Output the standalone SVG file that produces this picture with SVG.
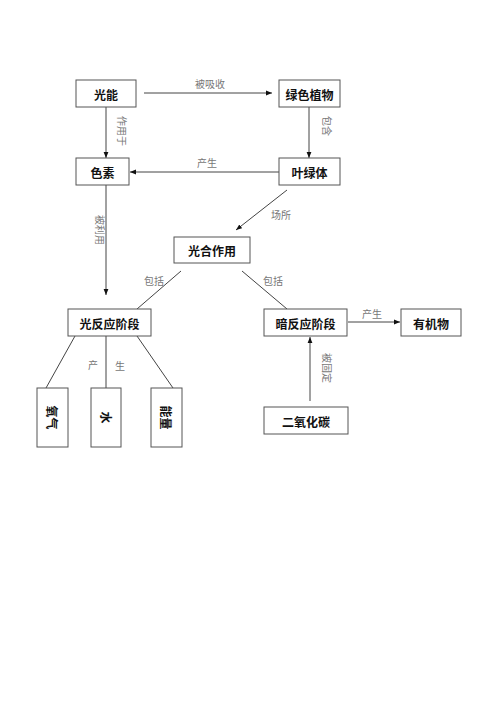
<svg xmlns="http://www.w3.org/2000/svg" width="500" height="708" viewBox="0 0 500 708">
<style>
.box{fill:#fff;stroke:#555;stroke-width:1}
.t{font-family:"Noto Sans CJK SC",sans-serif;font-size:12px;font-weight:bold;fill:#111;text-anchor:middle;dominant-baseline:central}
.l{font-family:"Noto Sans CJK SC",sans-serif;font-size:10px;fill:#777;text-anchor:middle;dominant-baseline:central}
.c{stroke:#444;stroke-width:1;fill:none}
</style>
<defs>
<marker id="ah" viewBox="0 0 10 10" refX="10" refY="5" markerWidth="6" markerHeight="6" orient="auto-start-reverse" markerUnits="userSpaceOnUse">
<path d="M0,1 L10,5 L0,9 z" fill="#111"/>
</marker>
</defs>
<rect width="500" height="708" fill="#fff"/>
<g id="connectors">
<line class="c" x1="144" y1="93" x2="272" y2="93" marker-end="url(#ah)"/>
<text class="l" x="210" y="83">被吸收</text>
<line class="c" x1="106" y1="107" x2="106" y2="158" marker-end="url(#ah)"/>
<text class="l" transform="rotate(90 122 131)" x="122" y="131">作用于</text>
<line class="c" x1="309" y1="107" x2="309" y2="158" marker-end="url(#ah)"/>
<text class="l" transform="rotate(90 327 126)" x="327" y="126">包含</text>
<line class="c" x1="279" y1="172" x2="130" y2="172" marker-end="url(#ah)"/>
<text class="l" x="207" y="162">产生</text>
<line class="c" x1="287" y1="190" x2="236" y2="230" marker-end="url(#ah)"/>
<text class="l" x="281" y="214">场所</text>
<line class="c" x1="106" y1="185" x2="106" y2="295" marker-end="url(#ah)"/>
<text class="l" transform="rotate(90 100 230)" x="100" y="230">被利用</text>
<line class="c" x1="181" y1="271" x2="137" y2="309"/>
<text class="l" x="154" y="280">包括</text>
<line class="c" x1="242" y1="271" x2="287" y2="309"/>
<text class="l" x="273" y="280">包括</text>
<line class="c" x1="348" y1="322" x2="400" y2="322" marker-end="url(#ah)"/>
<text class="l" x="372" y="313">产生</text>
<line class="c" x1="310" y1="401" x2="310" y2="337" marker-end="url(#ah)"/>
<text class="l" transform="rotate(90 327 368)" x="327" y="368">被固定</text>
<line class="c" x1="75" y1="336" x2="46" y2="388"/>
<line class="c" x1="106" y1="336" x2="106" y2="388"/>
<line class="c" x1="137" y1="336" x2="173" y2="388"/>
<text class="l" x="93" y="364">产</text>
<text class="l" x="120" y="365">生</text>
</g>
<g id="n-guangneng"><rect class="box" x="76" y="80" width="60" height="27"/><text class="t" x="106" y="94">光能</text></g>
<g id="n-lvsezhiwu"><rect class="box" x="279" y="80" width="61" height="27"/><text class="t" x="309.5" y="94">绿色植物</text></g>
<g id="n-sesu"><rect class="box" x="76" y="158" width="53" height="27"/><text class="t" x="102.5" y="172">色素</text></g>
<g id="n-yelvti"><rect class="box" x="279" y="158" width="61" height="27"/><text class="t" x="309.5" y="172">叶绿体</text></g>
<g id="n-guanghe"><rect class="box" x="174" y="237" width="76" height="26"/><text class="t" x="212" y="250.5">光合作用</text></g>
<g id="n-guangfanying"><rect class="box" x="68" y="309" width="83" height="27"/><text class="t" x="109.5" y="323">光反应阶段</text></g>
<g id="n-anfanying"><rect class="box" x="264" y="309" width="83" height="27"/><text class="t" x="305.5" y="323">暗反应阶段</text></g>
<g id="n-youjiwu"><rect class="box" x="401" y="309" width="60" height="27"/><text class="t" x="431" y="323">有机物</text></g>
<g id="n-eryanghuatan"><rect class="box" x="264" y="407" width="84" height="27"/><text class="t" x="306" y="421">二氧化碳</text></g>
<g id="n-yangqi"><rect class="box" x="37" y="388" width="31" height="59"/><text class="t" transform="rotate(90 52.5 417.5)" x="52.5" y="417.5">氧气</text></g>
<g id="n-shui"><rect class="box" x="91" y="388" width="30" height="59"/><text class="t" transform="rotate(90 106 417.5)" x="106" y="417.5">水</text></g>
<g id="n-nengliang"><rect class="box" x="151" y="388" width="31" height="59"/><text class="t" transform="rotate(90 166.5 417.5)" x="166.5" y="417.5">能量</text></g>
</svg>
